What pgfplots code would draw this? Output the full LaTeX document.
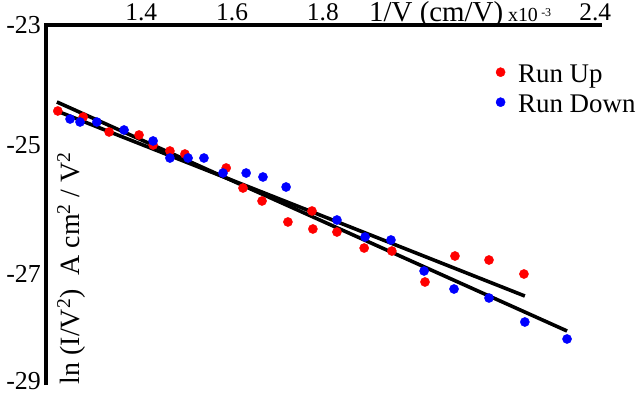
\documentclass[border=0pt]{standalone}
\usepackage{fontspec}
\setmainfont{Liberation Serif}
\usepackage{pgfplots}
\pgfplotsset{compat=1.18}

\begin{document}
\begin{tikzpicture}
\begin{axis}[
  scale only axis,
  width=556bp, height=360bp,
  xmin=1.19, xmax=2.415,
  ymin=-29, ymax=-23,
  clip=false,
  axis line style={draw=none},
  tick style={draw=none},
  xtick={1.4,1.6,1.8,2.4}, xticklabels={1.4,1.6,1.8,2.4},
  xticklabel pos=upper,
  xticklabel style={anchor=base, yshift=4bp, font=\fontsize{25.5}{30}\selectfont},
  ytick={-28.93,-27.15,-25,-23}, yticklabels={-29,-27,-25,-23},
  yticklabel style={anchor=east, inner sep=0pt, xshift=-5bp, font=\fontsize{26}{30}\selectfont},
  xlabel={1/V (cm/V)\,{\fontsize{20}{22}\selectfont x10\,\raisebox{0.55ex}{\fontsize{12}{13}\selectfont -3}}},
  xlabel style={at={(rel axis cs:0.581,1)}, anchor=base west, inner sep=0pt, yshift=3.5bp, font=\fontsize{29}{33}\selectfont},
  ylabel={ln (I/V\textsuperscript{2})\ \ A cm\textsuperscript{2} / V\textsuperscript{2}},
  ylabel style={at={(rel axis cs:0.045,0.325)}, anchor=center, inner sep=0pt, font=\fontsize{28}{32}\selectfont},
  legend cell align=left,
  legend image code/.code={\draw[#1] plot coordinates {(0bp,4bp)};},
  legend style={draw=none, fill=none, inner sep=0pt, at={(rel axis cs:0.809,0.8917)}, anchor=north west,
    font=\fontsize{27}{32}\selectfont, row sep=6bp, column sep=13bp,
    nodes={inner sep=0pt, text height=18bp, text depth=6bp}},
]
\coordinate (SW) at (rel axis cs:0,0);
\coordinate (NE) at (rel axis cs:1,1);
\draw[line width=4bp] (rel axis cs:0,0) -- (rel axis cs:0,1) -- (rel axis cs:1,1);

\addplot[only marks, mark=*, mark size=4.6pt, color=red, mark options={draw=red, fill=red}]
coordinates {
(1.216,-24.433) (1.272,-24.533) (1.329,-24.783) (1.395,-24.833) (1.426,-25.0)
(1.463,-25.1) (1.496,-25.15) (1.587,-25.383) (1.624,-25.717) (1.666,-25.933)
(1.723,-26.283) (1.776,-26.1) (1.778,-26.4) (1.831,-26.45) (1.891,-26.717)
(1.952,-26.767) (2.025,-27.283) (2.091,-26.85) (2.166,-26.917) (2.243,-27.15)
};
\addlegendentry{Run Up}

\addplot[only marks, mark=*, mark size=4.6pt, color=blue, mark options={draw=blue, fill=blue}]
coordinates {
(1.243,-24.567) (1.265,-24.617) (1.302,-24.617) (1.362,-24.75) (1.426,-24.933)
(1.463,-25.217) (1.503,-25.217) (1.538,-25.217) (1.580,-25.467) (1.631,-25.467)
(1.668,-25.533) (1.719,-25.7) (1.831,-26.25) (1.893,-26.533) (1.950,-26.583)
(2.023,-27.1) (2.089,-27.4) (2.166,-27.55) (2.245,-27.95) (2.338,-28.233)
};
\addlegendentry{Run Down}

\addplot[black, line width=3.6bp, no marks, forget plot] coordinates {(1.214,-24.283) (2.338,-28.1)};
\addplot[black, line width=3.6bp, no marks, forget plot] coordinates {(1.214,-24.433) (2.245,-27.517)};
\end{axis}
\pgfresetboundingbox
\path[use as bounding box] ([shift={(-46bp,-9bp)}]SW) rectangle ([shift={(42bp,25bp)}]NE);
\end{tikzpicture}
\end{document}
